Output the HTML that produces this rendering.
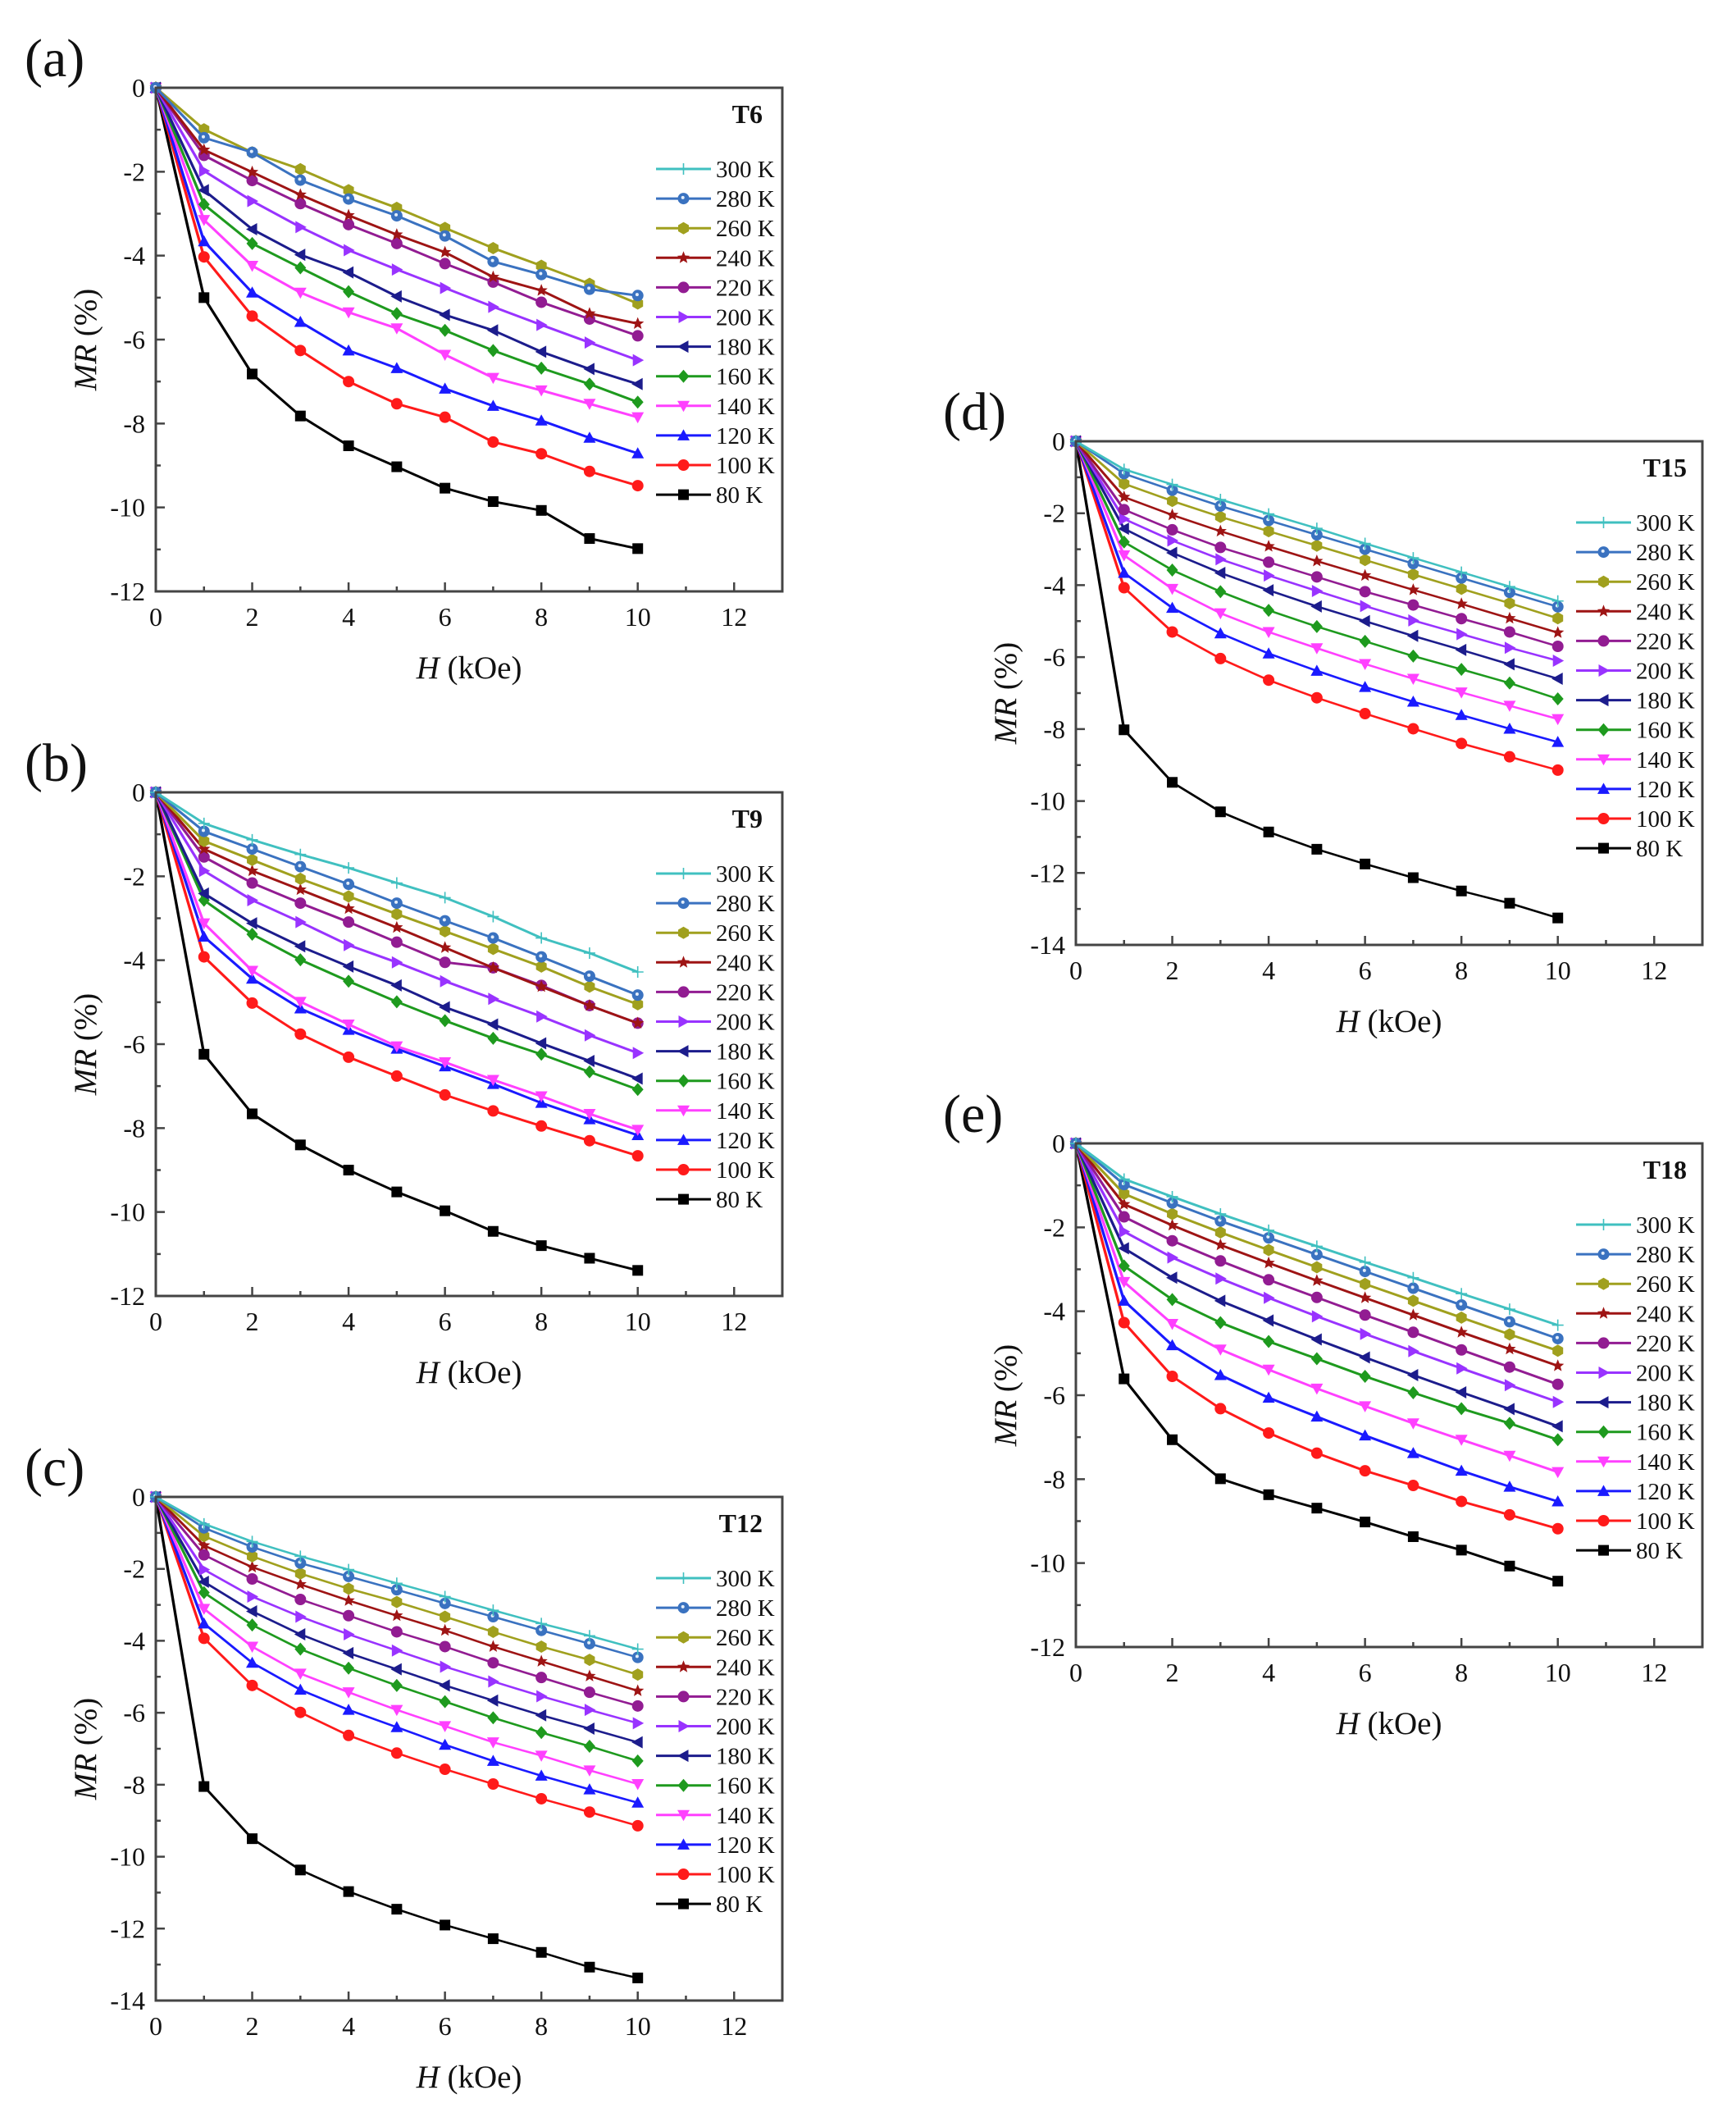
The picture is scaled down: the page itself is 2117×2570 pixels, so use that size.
<!DOCTYPE html>
<html>
<head>
<meta charset="utf-8">
<style>
html,body{margin:0;padding:0;background:#fff;}
svg{display:block;}
text{font-family:"Liberation Serif",serif;fill:#111;}
.tl{font-size:32px;}
.yl{text-anchor:end;}
.xl{text-anchor:middle;}
.lg{font-size:29px;}
.ttl{font-size:32px;font-weight:bold;text-anchor:end;}
.ax{font-size:39px;text-anchor:middle;}
.pl{font-size:66px;}
.d polyline{fill:none;stroke-width:0.057;stroke-linejoin:round;}
.ll{stroke-width:3;}
.A300{stroke:#40c0c0;marker-start:url(#A300);marker-mid:url(#A300);marker-end:url(#A300)}
.A280{stroke:#3a72c0;marker-start:url(#A280);marker-mid:url(#A280);marker-end:url(#A280)}
.A260{stroke:#a0a01e;marker-start:url(#A260);marker-mid:url(#A260);marker-end:url(#A260)}
.A240{stroke:#9e1414;marker-start:url(#A240);marker-mid:url(#A240);marker-end:url(#A240)}
.A220{stroke:#921c92;marker-start:url(#A220);marker-mid:url(#A220);marker-end:url(#A220)}
.A200{stroke:#9933ff;marker-start:url(#A200);marker-mid:url(#A200);marker-end:url(#A200)}
.A180{stroke:#1c1c8c;marker-start:url(#A180);marker-mid:url(#A180);marker-end:url(#A180)}
.A160{stroke:#1e9a1e;marker-start:url(#A160);marker-mid:url(#A160);marker-end:url(#A160)}
.A140{stroke:#ff40ff;marker-start:url(#A140);marker-mid:url(#A140);marker-end:url(#A140)}
.A120{stroke:#1a1aff;marker-start:url(#A120);marker-mid:url(#A120);marker-end:url(#A120)}
.A100{stroke:#ff1a1a;marker-start:url(#A100);marker-mid:url(#A100);marker-end:url(#A100)}
.A80{stroke:#000;marker-start:url(#A80);marker-mid:url(#A80);marker-end:url(#A80)}
.C300{stroke:#40c0c0;marker-start:url(#C300);marker-mid:url(#C300);marker-end:url(#C300)}
.C280{stroke:#3a72c0;marker-start:url(#C280);marker-mid:url(#C280);marker-end:url(#C280)}
.C260{stroke:#a0a01e;marker-start:url(#C260);marker-mid:url(#C260);marker-end:url(#C260)}
.C240{stroke:#9e1414;marker-start:url(#C240);marker-mid:url(#C240);marker-end:url(#C240)}
.C220{stroke:#921c92;marker-start:url(#C220);marker-mid:url(#C220);marker-end:url(#C220)}
.C200{stroke:#9933ff;marker-start:url(#C200);marker-mid:url(#C200);marker-end:url(#C200)}
.C180{stroke:#1c1c8c;marker-start:url(#C180);marker-mid:url(#C180);marker-end:url(#C180)}
.C160{stroke:#1e9a1e;marker-start:url(#C160);marker-mid:url(#C160);marker-end:url(#C160)}
.C140{stroke:#ff40ff;marker-start:url(#C140);marker-mid:url(#C140);marker-end:url(#C140)}
.C120{stroke:#1a1aff;marker-start:url(#C120);marker-mid:url(#C120);marker-end:url(#C120)}
.C100{stroke:#ff1a1a;marker-start:url(#C100);marker-mid:url(#C100);marker-end:url(#C100)}
.C80{stroke:#000;marker-start:url(#C80);marker-mid:url(#C80);marker-end:url(#C80)}
</style>
</head>
<body>
<svg width="2117" height="2570" viewBox="0 0 2117 2570" xmlns="http://www.w3.org/2000/svg" xmlns:xlink="http://www.w3.org/1999/xlink">
<defs>
<g id="s300"><path d="M0,-7V7M-7,0H7" stroke="#40c0c0" stroke-width="1.6" fill="none"/></g>
<g id="s280"><circle r="7" fill="#3a72c0"/><circle cx="-0.8" cy="-1.2" r="2" fill="#e4eefa"/></g>
<g id="s260"><polygon points="0,-7.5 6.5,-3.75 6.5,3.75 0,7.5 -6.5,3.75 -6.5,-3.75" fill="#a0a01e"/></g>
<g id="s240"><polygon points="0,-8 2.06,-2.83 7.61,-2.47 3.33,1.08 4.7,6.47 0,3.5 -4.7,6.47 -3.33,1.08 -7.61,-2.47 -2.06,-2.83" fill="#9e1414"/></g>
<g id="s220"><circle r="7" fill="#921c92"/></g>
<g id="s200"><polygon points="-6,-7.5 7.5,0 -6,7.5" fill="#9933ff"/></g>
<g id="s180"><polygon points="6,-7.5 -7.5,0 6,7.5" fill="#1c1c8c"/></g>
<g id="s160"><polygon points="0,-8 7,0 0,8 -7,0" fill="#1e9a1e"/></g>
<g id="s140"><polygon points="-7.5,-6 7.5,-6 0,7.5" fill="#ff40ff"/></g>
<g id="s120"><polygon points="0,-7.5 7.5,6 -7.5,6" fill="#1a1aff"/></g>
<g id="s100"><circle r="7" fill="#ff1a1a"/></g>
<g id="s80"><rect x="-6.5" y="-6.5" width="13" height="13" fill="#000"/></g>

<marker id="A300" markerUnits="userSpaceOnUse" markerWidth="0.2723" markerHeight="0.3127" viewBox="-8 -8 16 16" preserveAspectRatio="none" refX="0" refY="0"><use href="#s300" xlink:href="#s300"/></marker>
<marker id="A280" markerUnits="userSpaceOnUse" markerWidth="0.2723" markerHeight="0.3127" viewBox="-8 -8 16 16" preserveAspectRatio="none" refX="0" refY="0"><use href="#s280" xlink:href="#s280"/></marker>
<marker id="A260" markerUnits="userSpaceOnUse" markerWidth="0.2723" markerHeight="0.3127" viewBox="-8 -8 16 16" preserveAspectRatio="none" refX="0" refY="0"><use href="#s260" xlink:href="#s260"/></marker>
<marker id="A240" markerUnits="userSpaceOnUse" markerWidth="0.2723" markerHeight="0.3127" viewBox="-8 -8 16 16" preserveAspectRatio="none" refX="0" refY="0"><use href="#s240" xlink:href="#s240"/></marker>
<marker id="A220" markerUnits="userSpaceOnUse" markerWidth="0.2723" markerHeight="0.3127" viewBox="-8 -8 16 16" preserveAspectRatio="none" refX="0" refY="0"><use href="#s220" xlink:href="#s220"/></marker>
<marker id="A200" markerUnits="userSpaceOnUse" markerWidth="0.2723" markerHeight="0.3127" viewBox="-8 -8 16 16" preserveAspectRatio="none" refX="0" refY="0"><use href="#s200" xlink:href="#s200"/></marker>
<marker id="A180" markerUnits="userSpaceOnUse" markerWidth="0.2723" markerHeight="0.3127" viewBox="-8 -8 16 16" preserveAspectRatio="none" refX="0" refY="0"><use href="#s180" xlink:href="#s180"/></marker>
<marker id="A160" markerUnits="userSpaceOnUse" markerWidth="0.2723" markerHeight="0.3127" viewBox="-8 -8 16 16" preserveAspectRatio="none" refX="0" refY="0"><use href="#s160" xlink:href="#s160"/></marker>
<marker id="A140" markerUnits="userSpaceOnUse" markerWidth="0.2723" markerHeight="0.3127" viewBox="-8 -8 16 16" preserveAspectRatio="none" refX="0" refY="0"><use href="#s140" xlink:href="#s140"/></marker>
<marker id="A120" markerUnits="userSpaceOnUse" markerWidth="0.2723" markerHeight="0.3127" viewBox="-8 -8 16 16" preserveAspectRatio="none" refX="0" refY="0"><use href="#s120" xlink:href="#s120"/></marker>
<marker id="A100" markerUnits="userSpaceOnUse" markerWidth="0.2723" markerHeight="0.3127" viewBox="-8 -8 16 16" preserveAspectRatio="none" refX="0" refY="0"><use href="#s100" xlink:href="#s100"/></marker>
<marker id="A80" markerUnits="userSpaceOnUse" markerWidth="0.2723" markerHeight="0.3127" viewBox="-8 -8 16 16" preserveAspectRatio="none" refX="0" refY="0"><use href="#s80" xlink:href="#s80"/></marker>

<marker id="C300" markerUnits="userSpaceOnUse" markerWidth="0.2723" markerHeight="0.3648" viewBox="-8 -8 16 16" preserveAspectRatio="none" refX="0" refY="0"><use href="#s300" xlink:href="#s300"/></marker>
<marker id="C280" markerUnits="userSpaceOnUse" markerWidth="0.2723" markerHeight="0.3648" viewBox="-8 -8 16 16" preserveAspectRatio="none" refX="0" refY="0"><use href="#s280" xlink:href="#s280"/></marker>
<marker id="C260" markerUnits="userSpaceOnUse" markerWidth="0.2723" markerHeight="0.3648" viewBox="-8 -8 16 16" preserveAspectRatio="none" refX="0" refY="0"><use href="#s260" xlink:href="#s260"/></marker>
<marker id="C240" markerUnits="userSpaceOnUse" markerWidth="0.2723" markerHeight="0.3648" viewBox="-8 -8 16 16" preserveAspectRatio="none" refX="0" refY="0"><use href="#s240" xlink:href="#s240"/></marker>
<marker id="C220" markerUnits="userSpaceOnUse" markerWidth="0.2723" markerHeight="0.3648" viewBox="-8 -8 16 16" preserveAspectRatio="none" refX="0" refY="0"><use href="#s220" xlink:href="#s220"/></marker>
<marker id="C200" markerUnits="userSpaceOnUse" markerWidth="0.2723" markerHeight="0.3648" viewBox="-8 -8 16 16" preserveAspectRatio="none" refX="0" refY="0"><use href="#s200" xlink:href="#s200"/></marker>
<marker id="C180" markerUnits="userSpaceOnUse" markerWidth="0.2723" markerHeight="0.3648" viewBox="-8 -8 16 16" preserveAspectRatio="none" refX="0" refY="0"><use href="#s180" xlink:href="#s180"/></marker>
<marker id="C160" markerUnits="userSpaceOnUse" markerWidth="0.2723" markerHeight="0.3648" viewBox="-8 -8 16 16" preserveAspectRatio="none" refX="0" refY="0"><use href="#s160" xlink:href="#s160"/></marker>
<marker id="C140" markerUnits="userSpaceOnUse" markerWidth="0.2723" markerHeight="0.3648" viewBox="-8 -8 16 16" preserveAspectRatio="none" refX="0" refY="0"><use href="#s140" xlink:href="#s140"/></marker>
<marker id="C120" markerUnits="userSpaceOnUse" markerWidth="0.2723" markerHeight="0.3648" viewBox="-8 -8 16 16" preserveAspectRatio="none" refX="0" refY="0"><use href="#s120" xlink:href="#s120"/></marker>
<marker id="C100" markerUnits="userSpaceOnUse" markerWidth="0.2723" markerHeight="0.3648" viewBox="-8 -8 16 16" preserveAspectRatio="none" refX="0" refY="0"><use href="#s100" xlink:href="#s100"/></marker>
<marker id="C80" markerUnits="userSpaceOnUse" markerWidth="0.2723" markerHeight="0.3648" viewBox="-8 -8 16 16" preserveAspectRatio="none" refX="0" refY="0"><use href="#s80" xlink:href="#s80"/></marker>

<g id="leglines">
<line class="ll" x1="610" y1="99" x2="677" y2="99" stroke="#40c0c0"/><use href="#s300" xlink:href="#s300" x="643.5" y="99"/>
<line class="ll" x1="610" y1="135.1" x2="677" y2="135.1" stroke="#3a72c0"/><use href="#s280" xlink:href="#s280" x="643.5" y="135.1"/>
<line class="ll" x1="610" y1="171.2" x2="677" y2="171.2" stroke="#a0a01e"/><use href="#s260" xlink:href="#s260" x="643.5" y="171.2"/>
<line class="ll" x1="610" y1="207.3" x2="677" y2="207.3" stroke="#9e1414"/><use href="#s240" xlink:href="#s240" x="643.5" y="207.3"/>
<line class="ll" x1="610" y1="243.4" x2="677" y2="243.4" stroke="#921c92"/><use href="#s220" xlink:href="#s220" x="643.5" y="243.4"/>
<line class="ll" x1="610" y1="279.5" x2="677" y2="279.5" stroke="#9933ff"/><use href="#s200" xlink:href="#s200" x="643.5" y="279.5"/>
<line class="ll" x1="610" y1="315.6" x2="677" y2="315.6" stroke="#1c1c8c"/><use href="#s180" xlink:href="#s180" x="643.5" y="315.6"/>
<line class="ll" x1="610" y1="351.7" x2="677" y2="351.7" stroke="#1e9a1e"/><use href="#s160" xlink:href="#s160" x="643.5" y="351.7"/>
<line class="ll" x1="610" y1="387.8" x2="677" y2="387.8" stroke="#ff40ff"/><use href="#s140" xlink:href="#s140" x="643.5" y="387.8"/>
<line class="ll" x1="610" y1="423.9" x2="677" y2="423.9" stroke="#1a1aff"/><use href="#s120" xlink:href="#s120" x="643.5" y="423.9"/>
<line class="ll" x1="610" y1="460" x2="677" y2="460" stroke="#ff1a1a"/><use href="#s100" xlink:href="#s100" x="643.5" y="460"/>
<line class="ll" x1="610" y1="496.1" x2="677" y2="496.1" stroke="#000"/><use href="#s80" xlink:href="#s80" x="643.5" y="496.1"/>
</g>
</defs>

<rect x="0" y="0" width="2117" height="2570" fill="#fff"/>

<!-- ============ PANEL (a) ============ -->
<g transform="translate(190,107)">
<text class="pl" x="-160" y="-14">(a)</text>
<g class="d" transform="scale(58.77,51.17)">
<polyline class="A80" points="0,0 1,5.0 2,6.82 3,7.82 4,8.53 5,9.03 6,9.54 7,9.86 8,10.07 9,10.74 10,10.98"/>
<polyline class="A100" points="0,0 1,4.03 2,5.44 3,6.26 4,7.0 5,7.53 6,7.85 7,8.44 8,8.72 9,9.14 10,9.48"/>
<polyline class="A120" points="0,0 1,3.66 2,4.88 3,5.58 4,6.26 5,6.68 6,7.17 7,7.58 8,7.93 9,8.34 10,8.71"/>
<polyline class="A140" points="0,0 1,3.15 2,4.24 3,4.88 4,5.35 5,5.73 6,6.36 7,6.91 8,7.21 9,7.53 10,7.85"/>
<polyline class="A160" points="0,0 1,2.78 2,3.71 3,4.29 4,4.86 5,5.38 6,5.78 7,6.26 8,6.68 9,7.06 10,7.49"/>
<polyline class="A180" points="0,0 1,2.44 2,3.37 3,3.98 4,4.40 5,4.97 6,5.41 7,5.78 8,6.29 9,6.70 10,7.06"/>
<polyline class="A200" points="0,0 1,1.98 2,2.70 3,3.32 4,3.87 5,4.33 6,4.77 7,5.22 8,5.65 9,6.07 10,6.49"/>
<polyline class="A220" points="0,0 1,1.61 2,2.21 3,2.76 4,3.26 5,3.71 6,4.19 7,4.63 8,5.11 9,5.51 10,5.91"/>
<polyline class="A240" points="0,0 1,1.48 2,2.01 3,2.55 4,3.04 5,3.50 6,3.92 7,4.51 8,4.83 9,5.38 10,5.62"/>
<polyline class="A260" points="0,0 1,0.99 2,1.54 3,1.94 4,2.44 5,2.86 6,3.34 7,3.82 8,4.24 9,4.67 10,5.14"/>
<polyline class="A280" points="0,0 1,1.19 2,1.54 3,2.20 4,2.65 5,3.05 6,3.53 7,4.14 8,4.45 9,4.80 10,4.95"/>
</g>
<rect x="0" y="0" width="764" height="614" fill="none" stroke="#444" stroke-width="3"/>
<path d="M58.77,614v-6M117.54,614v-11M176.31,614v-6M235.08,614v-11M293.85,614v-6M352.62,614v-11M411.39,614v-6M470.16,614v-11M528.93,614v-6M587.7,614v-11M646.47,614v-6M705.24,614v-11M0,51.17h6M0,102.33h11M0,153.5h6M0,204.67h11M0,255.83h6M0,307h11M0,358.17h6M0,409.33h11M0,460.5h6M0,511.67h11M0,562.83h6" stroke="#444" stroke-width="2.5" fill="none"/>
<g class="tl yl">
<text x="-13" y="11">0</text><text x="-13" y="113.3">-2</text><text x="-13" y="215.7">-4</text><text x="-13" y="318">-6</text><text x="-13" y="420.3">-8</text><text x="-13" y="522.7">-10</text><text x="-13" y="625">-12</text>
</g>
<g class="tl xl">
<text x="0" y="656">0</text><text x="117.54" y="656">2</text><text x="235.08" y="656">4</text><text x="352.62" y="656">6</text><text x="470.16" y="656">8</text><text x="587.7" y="656">10</text><text x="705.24" y="656">12</text>
</g>
<text class="ax" x="382" y="720"><tspan font-style="italic">H</tspan> (kOe)</text>
<text class="ax" transform="translate(-73,307) rotate(-90)"><tspan font-style="italic">MR</tspan> (%)</text>
<text class="ttl" x="740" y="43">T6</text>
<use href="#leglines" xlink:href="#leglines"/>
<g class="lg">
<text x="683" y="109">300 K</text><text x="683" y="145.1">280 K</text><text x="683" y="181.2">260 K</text><text x="683" y="217.3">240 K</text><text x="683" y="253.4">220 K</text><text x="683" y="289.5">200 K</text><text x="683" y="325.6">180 K</text><text x="683" y="361.7">160 K</text><text x="683" y="397.8">140 K</text><text x="683" y="433.9">120 K</text><text x="683" y="470">100 K</text><text x="683" y="506.1">80 K</text>
</g>
</g>

<!-- ============ PANEL (b) ============ -->
<g transform="translate(190,966)">
<text class="pl" x="-160" y="-14">(b)</text>
<g class="d" transform="scale(58.77,51.17)">
<polyline class="A80" points="0,0 1,6.24 2,7.66 3,8.4 4,9.0 5,9.52 6,9.97 7,10.46 8,10.8 9,11.1 10,11.39"/>
<polyline class="A100" points="0,0 1,3.92 2,5.02 3,5.76 4,6.31 5,6.76 6,7.21 7,7.59 8,7.95 9,8.3 10,8.66"/>
<polyline class="A120" points="0,0 1,3.44 2,4.44 3,5.15 4,5.66 5,6.11 6,6.53 7,6.95 8,7.4 9,7.79 10,8.17"/>
<polyline class="A140" points="0,0 1,3.12 2,4.25 3,4.99 4,5.53 5,6.05 6,6.43 7,6.85 8,7.24 9,7.66 10,8.04"/>
<polyline class="A160" points="0,0 1,2.57 2,3.38 3,3.99 4,4.5 5,4.99 6,5.44 7,5.86 8,6.24 9,6.66 10,7.08"/>
<polyline class="A180" points="0,0 1,2.41 2,3.12 3,3.67 4,4.15 5,4.6 6,5.12 7,5.53 8,5.98 9,6.4 10,6.82"/>
<polyline class="A200" points="0,0 1,1.87 2,2.57 3,3.09 4,3.64 5,4.05 6,4.5 7,4.92 8,5.34 9,5.79 10,6.21"/>
<polyline class="A220" points="0,0 1,1.54 2,2.16 3,2.64 4,3.09 5,3.57 6,4.05 7,4.18 8,4.6 9,5.08 10,5.5"/>
<polyline class="A240" points="0,0 1,1.35 2,1.87 3,2.32 4,2.77 5,3.22 6,3.7 7,4.18 8,4.63 9,5.08 10,5.5"/>
<polyline class="A260" points="0,0 1,1.16 2,1.61 3,2.06 4,2.48 5,2.9 6,3.31 7,3.73 8,4.15 9,4.63 10,5.05"/>
<polyline class="A280" points="0,0 1,0.93 2,1.35 3,1.77 4,2.19 5,2.64 6,3.06 7,3.47 8,3.92 9,4.38 10,4.83"/>
<polyline class="A300" points="0,0 1,0.74 2,1.13 3,1.48 4,1.8 5,2.16 6,2.51 7,2.96 8,3.47 9,3.83 10,4.28"/>
</g>
<rect x="0" y="0" width="764" height="614" fill="none" stroke="#444" stroke-width="3"/>
<path d="M58.77,614v-6M117.54,614v-11M176.31,614v-6M235.08,614v-11M293.85,614v-6M352.62,614v-11M411.39,614v-6M470.16,614v-11M528.93,614v-6M587.7,614v-11M646.47,614v-6M705.24,614v-11M0,51.17h6M0,102.33h11M0,153.5h6M0,204.67h11M0,255.83h6M0,307h11M0,358.17h6M0,409.33h11M0,460.5h6M0,511.67h11M0,562.83h6" stroke="#444" stroke-width="2.5" fill="none"/>
<g class="tl yl">
<text x="-13" y="11">0</text><text x="-13" y="113.3">-2</text><text x="-13" y="215.7">-4</text><text x="-13" y="318">-6</text><text x="-13" y="420.3">-8</text><text x="-13" y="522.7">-10</text><text x="-13" y="625">-12</text>
</g>
<g class="tl xl">
<text x="0" y="656">0</text><text x="117.54" y="656">2</text><text x="235.08" y="656">4</text><text x="352.62" y="656">6</text><text x="470.16" y="656">8</text><text x="587.7" y="656">10</text><text x="705.24" y="656">12</text>
</g>
<text class="ax" x="382" y="720"><tspan font-style="italic">H</tspan> (kOe)</text>
<text class="ax" transform="translate(-73,307) rotate(-90)"><tspan font-style="italic">MR</tspan> (%)</text>
<text class="ttl" x="740" y="43">T9</text>
<use href="#leglines" xlink:href="#leglines"/>
<g class="lg">
<text x="683" y="109">300 K</text><text x="683" y="145.1">280 K</text><text x="683" y="181.2">260 K</text><text x="683" y="217.3">240 K</text><text x="683" y="253.4">220 K</text><text x="683" y="289.5">200 K</text><text x="683" y="325.6">180 K</text><text x="683" y="361.7">160 K</text><text x="683" y="397.8">140 K</text><text x="683" y="433.9">120 K</text><text x="683" y="470">100 K</text><text x="683" y="506.1">80 K</text>
</g>
</g>

<!-- ============ PANEL (c) ============ -->
<g transform="translate(190,1825)">
<text class="pl" x="-160" y="-14">(c)</text>
<g class="d" transform="scale(58.77,43.86)">
<polyline class="C80" points="0,0 1,8.05 2,9.5 3,10.37 4,10.97 5,11.46 6,11.9 7,12.28 8,12.66 9,13.07 10,13.37"/>
<polyline class="C100" points="0,0 1,3.93 2,5.24 3,5.99 4,6.63 5,7.12 6,7.57 7,7.98 8,8.39 9,8.76 10,9.14"/>
<polyline class="C120" points="0,0 1,3.52 2,4.61 3,5.36 4,5.92 5,6.4 6,6.89 7,7.34 8,7.75 9,8.13 10,8.5"/>
<polyline class="C140" points="0,0 1,3.11 2,4.16 3,4.91 4,5.43 5,5.92 6,6.37 7,6.82 8,7.19 9,7.6 10,7.98"/>
<polyline class="C160" points="0,0 1,2.66 2,3.56 3,4.23 4,4.76 5,5.24 6,5.69 7,6.14 8,6.55 9,6.93 10,7.34"/>
<polyline class="C180" points="0,0 1,2.36 2,3.18 3,3.82 4,4.34 5,4.79 6,5.24 7,5.66 8,6.07 9,6.44 10,6.82"/>
<polyline class="C200" points="0,0 1,2.02 2,2.77 3,3.33 4,3.82 5,4.27 6,4.72 7,5.13 8,5.54 9,5.92 10,6.29"/>
<polyline class="C220" points="0,0 1,1.61 2,2.28 3,2.85 4,3.3 5,3.75 6,4.16 7,4.61 8,5.02 9,5.43 10,5.81"/>
<polyline class="C240" points="0,0 1,1.35 2,1.95 3,2.43 4,2.88 5,3.3 6,3.71 7,4.16 8,4.57 9,4.98 10,5.39"/>
<polyline class="C260" points="0,0 1,1.09 2,1.65 3,2.13 4,2.55 5,2.92 6,3.33 7,3.75 8,4.16 9,4.53 10,4.94"/>
<polyline class="C280" points="0,0 1,0.86 2,1.39 3,1.84 4,2.21 5,2.58 6,2.96 7,3.33 8,3.71 9,4.08 10,4.46"/>
<polyline class="C300" points="0,0 1,0.75 2,1.24 3,1.65 4,2.02 5,2.4 6,2.77 7,3.15 8,3.52 9,3.86 10,4.23"/>
</g>
<rect x="0" y="0" width="764" height="614" fill="none" stroke="#444" stroke-width="3"/>
<path d="M58.77,614v-6M117.54,614v-11M176.31,614v-6M235.08,614v-11M293.85,614v-6M352.62,614v-11M411.39,614v-6M470.16,614v-11M528.93,614v-6M587.7,614v-11M646.47,614v-6M705.24,614v-11M0,43.86h6M0,87.71h11M0,131.57h6M0,175.43h11M0,219.29h6M0,263.14h11M0,307h6M0,350.86h11M0,394.71h6M0,438.57h11M0,482.43h6M0,526.29h11M0,570.14h6" stroke="#444" stroke-width="2.5" fill="none"/>
<g class="tl yl">
<text x="-13" y="11">0</text><text x="-13" y="98.7">-2</text><text x="-13" y="186.4">-4</text><text x="-13" y="274.1">-6</text><text x="-13" y="361.9">-8</text><text x="-13" y="449.6">-10</text><text x="-13" y="537.3">-12</text><text x="-13" y="625">-14</text>
</g>
<g class="tl xl">
<text x="0" y="656">0</text><text x="117.54" y="656">2</text><text x="235.08" y="656">4</text><text x="352.62" y="656">6</text><text x="470.16" y="656">8</text><text x="587.7" y="656">10</text><text x="705.24" y="656">12</text>
</g>
<text class="ax" x="382" y="720"><tspan font-style="italic">H</tspan> (kOe)</text>
<text class="ax" transform="translate(-73,307) rotate(-90)"><tspan font-style="italic">MR</tspan> (%)</text>
<text class="ttl" x="740" y="43">T12</text>
<use href="#leglines" xlink:href="#leglines"/>
<g class="lg">
<text x="683" y="109">300 K</text><text x="683" y="145.1">280 K</text><text x="683" y="181.2">260 K</text><text x="683" y="217.3">240 K</text><text x="683" y="253.4">220 K</text><text x="683" y="289.5">200 K</text><text x="683" y="325.6">180 K</text><text x="683" y="361.7">160 K</text><text x="683" y="397.8">140 K</text><text x="683" y="433.9">120 K</text><text x="683" y="470">100 K</text><text x="683" y="506.1">80 K</text>
</g>
</g>

<!-- ============ PANEL (d) ============ -->
<g transform="translate(1312,538)">
<text class="pl" x="-162" y="-14">(d)</text>
<g class="d" transform="scale(58.77,43.86)">
<polyline class="C80" points="0,0 1,8.02 2,9.48 3,10.3 4,10.86 5,11.34 6,11.75 7,12.13 8,12.5 9,12.84 10,13.25"/>
<polyline class="C100" points="0,0 1,4.07 2,5.3 3,6.04 4,6.64 5,7.13 6,7.57 7,7.99 8,8.4 9,8.77 10,9.14"/>
<polyline class="C120" points="0,0 1,3.66 2,4.63 3,5.34 4,5.9 5,6.38 6,6.83 7,7.24 8,7.61 9,7.99 10,8.36"/>
<polyline class="C140" points="0,0 1,3.17 2,4.1 3,4.78 4,5.3 5,5.75 6,6.19 7,6.6 8,6.98 9,7.35 10,7.72"/>
<polyline class="C160" points="0,0 1,2.8 2,3.58 3,4.18 4,4.7 5,5.15 6,5.56 7,5.97 8,6.34 9,6.72 10,7.16"/>
<polyline class="C180" points="0,0 1,2.43 2,3.1 3,3.66 4,4.14 5,4.59 6,5.0 7,5.41 8,5.8 9,6.2 10,6.6"/>
<polyline class="C200" points="0,0 1,2.16 2,2.76 3,3.28 4,3.73 5,4.16 6,4.58 7,4.98 8,5.36 9,5.74 10,6.1"/>
<polyline class="C220" points="0,0 1,1.9 2,2.46 3,2.95 4,3.36 5,3.77 6,4.18 7,4.55 8,4.93 9,5.3 10,5.7"/>
<polyline class="C240" points="0,0 1,1.55 2,2.05 3,2.5 4,2.92 5,3.33 6,3.73 7,4.13 8,4.52 9,4.92 10,5.32"/>
<polyline class="C260" points="0,0 1,1.18 2,1.66 3,2.1 4,2.5 5,2.9 6,3.3 7,3.7 8,4.1 9,4.5 10,4.92"/>
<polyline class="C280" points="0,0 1,0.9 2,1.36 3,1.8 4,2.2 5,2.6 6,3.0 7,3.4 8,3.8 9,4.2 10,4.6"/>
<polyline class="C300" points="0,0 1,0.78 2,1.2 3,1.62 4,2.02 5,2.42 6,2.84 7,3.24 8,3.64 9,4.04 10,4.44"/>
</g>
<rect x="0" y="0" width="764" height="614" fill="none" stroke="#444" stroke-width="3"/>
<path d="M58.77,614v-6M117.54,614v-11M176.31,614v-6M235.08,614v-11M293.85,614v-6M352.62,614v-11M411.39,614v-6M470.16,614v-11M528.93,614v-6M587.7,614v-11M646.47,614v-6M705.24,614v-11M0,43.86h6M0,87.71h11M0,131.57h6M0,175.43h11M0,219.29h6M0,263.14h11M0,307h6M0,350.86h11M0,394.71h6M0,438.57h11M0,482.43h6M0,526.29h11M0,570.14h6" stroke="#444" stroke-width="2.5" fill="none"/>
<g class="tl yl">
<text x="-13" y="11">0</text><text x="-13" y="98.7">-2</text><text x="-13" y="186.4">-4</text><text x="-13" y="274.1">-6</text><text x="-13" y="361.9">-8</text><text x="-13" y="449.6">-10</text><text x="-13" y="537.3">-12</text><text x="-13" y="625">-14</text>
</g>
<g class="tl xl">
<text x="0" y="656">0</text><text x="117.54" y="656">2</text><text x="235.08" y="656">4</text><text x="352.62" y="656">6</text><text x="470.16" y="656">8</text><text x="587.7" y="656">10</text><text x="705.24" y="656">12</text>
</g>
<text class="ax" x="382" y="720"><tspan font-style="italic">H</tspan> (kOe)</text>
<text class="ax" transform="translate(-73,307) rotate(-90)"><tspan font-style="italic">MR</tspan> (%)</text>
<text class="ttl" x="745" y="43">T15</text>
<use href="#leglines" xlink:href="#leglines"/>
<g class="lg">
<text x="683" y="109">300 K</text><text x="683" y="145.1">280 K</text><text x="683" y="181.2">260 K</text><text x="683" y="217.3">240 K</text><text x="683" y="253.4">220 K</text><text x="683" y="289.5">200 K</text><text x="683" y="325.6">180 K</text><text x="683" y="361.7">160 K</text><text x="683" y="397.8">140 K</text><text x="683" y="433.9">120 K</text><text x="683" y="470">100 K</text><text x="683" y="506.1">80 K</text>
</g>
</g>

<!-- ============ PANEL (e) ============ -->
<g transform="translate(1312,1394)">
<text class="pl" x="-162" y="-14">(e)</text>
<g class="d" transform="scale(58.77,51.17)">
<polyline class="A80" points="0,0 1,5.61 2,7.06 3,7.99 4,8.37 5,8.69 6,9.02 7,9.37 8,9.69 9,10.07 10,10.43"/>
<polyline class="A100" points="0,0 1,4.27 2,5.55 3,6.32 4,6.9 5,7.38 6,7.8 7,8.15 8,8.53 9,8.85 10,9.18"/>
<polyline class="A120" points="0,0 1,3.75 2,4.81 3,5.52 4,6.06 5,6.51 6,6.96 7,7.38 8,7.8 9,8.18 10,8.53"/>
<polyline class="A140" points="0,0 1,3.3 2,4.3 3,4.91 4,5.39 5,5.84 6,6.26 7,6.67 8,7.06 9,7.44 10,7.83"/>
<polyline class="A160" points="0,0 1,2.92 2,3.72 3,4.27 4,4.72 5,5.13 6,5.55 7,5.94 8,6.32 9,6.67 10,7.06"/>
<polyline class="A180" points="0,0 1,2.5 2,3.2 3,3.75 4,4.22 5,4.67 6,5.1 7,5.52 8,5.93 9,6.33 10,6.74"/>
<polyline class="A200" points="0,0 1,2.1 2,2.72 3,3.22 4,3.68 5,4.12 6,4.54 7,4.95 8,5.36 9,5.76 10,6.16"/>
<polyline class="A220" points="0,0 1,1.75 2,2.32 3,2.8 4,3.25 5,3.67 6,4.09 7,4.5 8,4.92 9,5.33 10,5.74"/>
<polyline class="A240" points="0,0 1,1.45 2,1.95 3,2.42 4,2.85 5,3.27 6,3.68 7,4.09 8,4.5 9,4.9 10,5.3"/>
<polyline class="A260" points="0,0 1,1.2 2,1.68 3,2.12 4,2.54 5,2.95 6,3.35 7,3.75 8,4.15 9,4.55 10,4.94"/>
<polyline class="A280" points="0,0 1,0.98 2,1.42 3,1.85 4,2.25 5,2.65 6,3.05 7,3.45 8,3.85 9,4.25 10,4.65"/>
<polyline class="A300" points="0,0 1,0.85 2,1.27 3,1.68 4,2.07 5,2.45 6,2.83 7,3.2 8,3.58 9,3.95 10,4.33"/>
</g>
<rect x="0" y="0" width="764" height="614" fill="none" stroke="#444" stroke-width="3"/>
<path d="M58.77,614v-6M117.54,614v-11M176.31,614v-6M235.08,614v-11M293.85,614v-6M352.62,614v-11M411.39,614v-6M470.16,614v-11M528.93,614v-6M587.7,614v-11M646.47,614v-6M705.24,614v-11M0,51.17h6M0,102.33h11M0,153.5h6M0,204.67h11M0,255.83h6M0,307h11M0,358.17h6M0,409.33h11M0,460.5h6M0,511.67h11M0,562.83h6" stroke="#444" stroke-width="2.5" fill="none"/>
<g class="tl yl">
<text x="-13" y="11">0</text><text x="-13" y="113.3">-2</text><text x="-13" y="215.7">-4</text><text x="-13" y="318">-6</text><text x="-13" y="420.3">-8</text><text x="-13" y="522.7">-10</text><text x="-13" y="625">-12</text>
</g>
<g class="tl xl">
<text x="0" y="656">0</text><text x="117.54" y="656">2</text><text x="235.08" y="656">4</text><text x="352.62" y="656">6</text><text x="470.16" y="656">8</text><text x="587.7" y="656">10</text><text x="705.24" y="656">12</text>
</g>
<text class="ax" x="382" y="720"><tspan font-style="italic">H</tspan> (kOe)</text>
<text class="ax" transform="translate(-73,307) rotate(-90)"><tspan font-style="italic">MR</tspan> (%)</text>
<text class="ttl" x="745" y="43">T18</text>
<use href="#leglines" xlink:href="#leglines"/>
<g class="lg">
<text x="683" y="109">300 K</text><text x="683" y="145.1">280 K</text><text x="683" y="181.2">260 K</text><text x="683" y="217.3">240 K</text><text x="683" y="253.4">220 K</text><text x="683" y="289.5">200 K</text><text x="683" y="325.6">180 K</text><text x="683" y="361.7">160 K</text><text x="683" y="397.8">140 K</text><text x="683" y="433.9">120 K</text><text x="683" y="470">100 K</text><text x="683" y="506.1">80 K</text>
</g>
</g>
</svg>
</body>
</html>
